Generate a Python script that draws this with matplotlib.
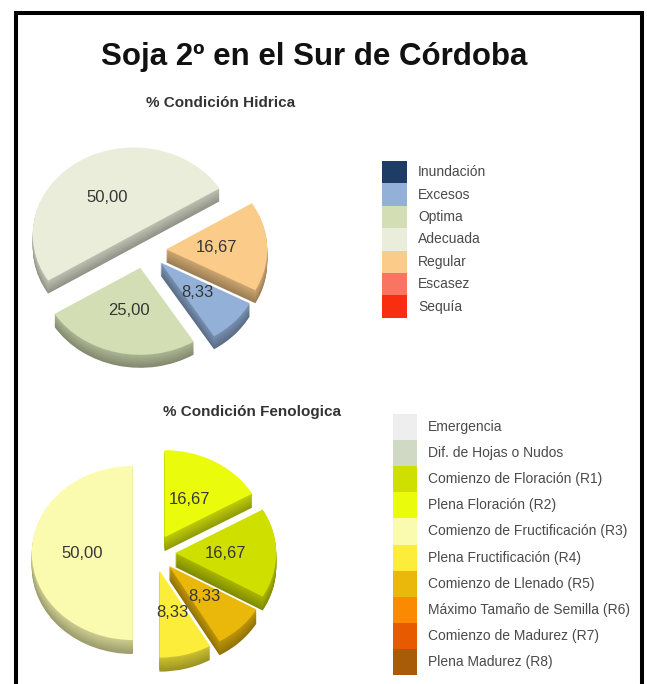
import matplotlib
matplotlib.use("Agg")
import matplotlib.pyplot as plt
from matplotlib.patches import Rectangle
from matplotlib.colors import to_rgb

plt.rcParams["font.family"] = ["Liberation Sans", "DejaVu Sans"]

W, H = 647, 684

title = "Soja 2º en el Sur de Córdoba"

# condicion hidrica
hid_title = "% Condición Hidrica"
hid_labels = ["Inundación", "Excesos", "Optima", "Adecuada", "Regular", "Escasez", "Sequía"]
hid_colors = ["#1e3d66", "#93b0d8", "#d3deb4", "#e9edda", "#fbcb8a", "#f97563", "#f92d0f"]
hid_values = [0, 8.33, 25.00, 50.00, 16.67, 0, 0]
hid_pie_order = ["Adecuada", "Optima", "Excesos", "Regular"]

# condicion fenologica
fen_title = "% Condición Fenologica"
fen_labels = ["Emergencia", "Dif. de Hojas o Nudos", "Comienzo de Floración (R1)",
              "Plena Floración (R2)", "Comienzo de Fructificación (R3)",
              "Plena Fructificación (R4)", "Comienzo de Llenado (R5)",
              "Máximo Tamaño de Semilla (R6)", "Comienzo de Madurez (R7)",
              "Plena Madurez (R8)"]
fen_colors = ["#eeeeee", "#cfd9c4", "#cfe000", "#eafc0c", "#fbfbb0",
              "#fbed3a", "#eab80a", "#fb8a00", "#e85a00", "#a85c08"]
fen_values = [0, 0, 16.67, 16.67, 50.00, 8.33, 8.33, 0, 0, 0]
fen_pie_order = ["Comienzo de Fructificación (R3)", "Plena Fructificación (R4)",
                 "Comienzo de Llenado (R5)", "Comienzo de Floración (R1)",
                 "Plena Floración (R2)"]


def darker(c, f):
    r, g, b = to_rgb(c)
    return (r * f, g * f, b * f)


def pie3d(fig, cx, cy, rx, ry, labels, colors, values, order, start, depth_px):
    lim = 1.6
    ax = fig.add_axes([(cx - lim * rx) / W, (H - cy - lim * ry) / H,
                       2 * lim * rx / W, 2 * lim * ry / H])
    vals = [values[labels.index(n)] for n in order]
    cols = [colors[labels.index(n)] for n in order]
    explode = [0.21] * len(vals)
    depth = depth_px / ry
    n = 14
    for k in range(n, 0, -1):
        f = 0.62 + 0.2 * (n - k) / n
        ax.pie(vals, colors=[darker(c, f) for c in cols], startangle=start,
               explode=explode, center=(0, -depth * k / n), radius=1,
               wedgeprops=dict(linewidth=0))
    _, texts, autotexts = ax.pie(
        vals, colors=cols, startangle=start, explode=explode, radius=1,
        wedgeprops=dict(linewidth=0), pctdistance=0.5,
        autopct=lambda p: f"{p:.2f}".replace(".", ","))
    for t in autotexts:
        t.set_fontsize(12)
        t.set_color("#363636")
    ax.set_aspect("auto")
    ax.set_xlim(-lim, lim)
    ax.set_ylim(-lim, lim)
    ax.axis("off")
    return ax


def legend(ax, x0, y0, sw, rh, tx, labels, colors):
    for i, (lab, col) in enumerate(zip(labels, colors)):
        ax.add_patch(Rectangle((x0, y0 + i * rh), sw, rh, facecolor=col,
                               edgecolor="none"))
        ax.text(tx, y0 + (i + 0.5) * rh, lab, fontsize=10, color="#4a4a4a",
                va="center", ha="left")


fig = plt.figure(figsize=(W / 100, H / 100), dpi=100)
fig.patch.set_facecolor("white")

bg = fig.add_axes([0, 0, 1, 1])
bg.set_xlim(0, W)
bg.set_ylim(H, 0)
bg.axis("off")

# marco
bg.plot([15.5, 15.5, 642, 642], [H + 5, 12.5, 12.5, H + 5], color="black",
        linewidth=2.9, solid_joinstyle="miter")

bg.text(314.5, 65, title, fontsize=22.5, fontweight="bold", ha="center",
        va="baseline", color="#111111")
bg.text(221, 107, hid_title, fontsize=11, fontweight="bold", ha="center",
        va="baseline", color="#333333")
bg.text(252, 416, fen_title, fontsize=11, fontweight="bold", ha="center",
        va="baseline", color="#333333")

legend(bg, 382, 161, 25, 22.4, 418, hid_labels, hid_colors)
legend(bg, 393, 414, 24, 26.1, 428, fen_labels, fen_colors)

pie3d(fig, 145, 250, 101, 87, hid_labels, hid_colors, hid_values,
      hid_pie_order, 32, 13)
pie3d(fig, 154, 553, 101, 87, fen_labels, fen_colors, fen_values,
      fen_pie_order, 90, 14)

fig.savefig("out.png", dpi=100)
